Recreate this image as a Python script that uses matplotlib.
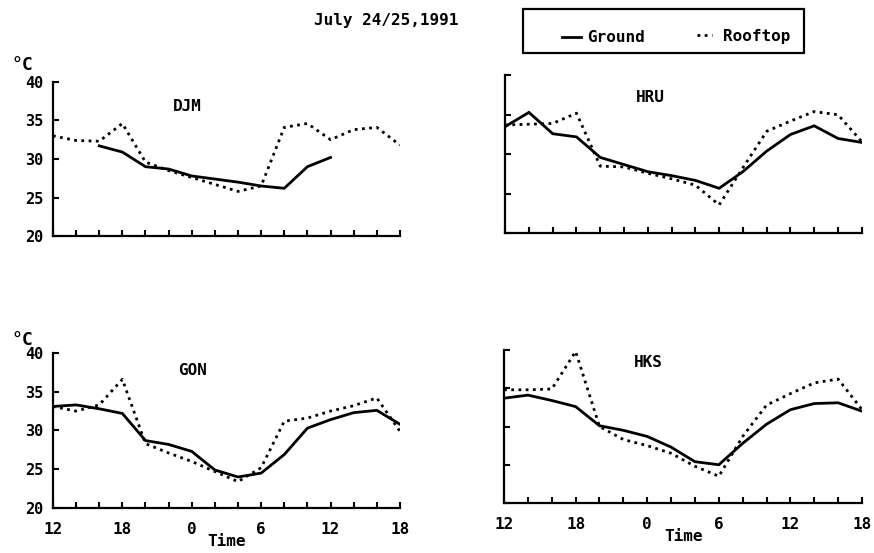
import matplotlib
matplotlib.use('Agg')
import matplotlib.pyplot as plt
from matplotlib.lines import Line2D
from matplotlib.patches import Rectangle

# ---------------- data ----------------
hours = [0, 2, 4, 6, 8, 10, 12, 14, 16, 18, 20, 22, 24, 26, 28, 30]   # hours after 12:00, July 24
tick_labels = ["12", "18", "0", "6", "12", "18"]
tick_positions = [0, 6, 12, 18, 24, 30]

djm_hours_ground = [4, 6, 8, 10, 12, 14, 16, 18, 20, 22, 24]
djm_ground = [31.7, 30.9, 29.0, 28.7, 27.8, 27.4, 27.0, 26.5, 26.2, 29.0, 30.2]
djm_roof = [33.0, 32.4, 32.3, 34.6, 29.6, 28.5, 27.6, 26.7, 25.8, 26.5, 34.1, 34.6, 32.5, 33.8, 34.1, 31.8]

hru_ground = [33.5, 35.3, 32.6, 32.2, 29.6, 28.7, 27.8, 27.3, 26.7, 25.7, 27.8, 30.4, 32.5, 33.6, 32.0, 31.5]
hru_roof = [33.7, 33.8, 33.9, 35.2, 28.5, 28.4, 27.6, 26.9, 26.1, 23.6, 28.3, 32.9, 34.2, 35.4, 35.0, 31.6]

gon_ground = [33.1, 33.3, 32.8, 32.2, 28.7, 28.2, 27.3, 24.9, 24.0, 24.5, 26.9, 30.3, 31.4, 32.3, 32.6, 30.8]
gon_roof = [33.1, 32.5, 33.3, 36.6, 28.3, 27.1, 26.0, 24.7, 23.4, 25.2, 31.2, 31.6, 32.5, 33.2, 34.2, 29.9]

hks_ground = [33.7, 34.1, 33.4, 32.6, 30.1, 29.5, 28.7, 27.3, 25.4, 25.0, 27.8, 30.3, 32.2, 33.0, 33.1, 32.0]
hks_roof = [34.8, 34.8, 34.9, 39.8, 30.0, 28.3, 27.5, 26.5, 24.8, 23.5, 28.7, 32.8, 34.3, 35.7, 36.2, 32.2]

# ---------------- style ----------------
FONT = 'DejaVu Sans Mono'
plt.rcParams['font.family'] = [FONT, 'DejaVu Sans']
plt.rcParams['font.weight'] = 'bold'

SOLID = dict(color='black', lw=2.0, solid_joinstyle='miter')
DOT = dict(color='black', lw=2.0, linestyle=(0, (1, 1.6)))

fig = plt.figure(figsize=(8.74, 5.53), dpi=100)

panels = [
    # name, rect, ground x, ground y, roof y, left labels, bottom labels, title pos
    ("DJM", [0.0606, 0.573, 0.397, 0.279], djm_hours_ground, djm_ground, djm_roof, True, False, (0.386, 0.838)),
    ("HRU", [0.578, 0.578, 0.408, 0.286], hours, hru_ground, hru_roof, False, False, (0.406, 0.857)),
    ("GON", [0.0606, 0.0814, 0.397, 0.2803], hours, gon_ground, gon_roof, True, True, (0.403, 0.89)),
    ("HKS", [0.5767, 0.0904, 0.4096, 0.2767], hours, hks_ground, hks_roof, False, True, (0.402, 0.915)),
]

for name, rect, gx, gy, ry, left_lab, bot_lab, tpos in panels:
    ax = fig.add_axes(rect)
    ax.plot(gx, gy, **SOLID)
    ax.plot(hours, ry, **DOT)
    ax.set_xlim(0, 30)
    ax.set_ylim(20, 40)
    for s in ('top', 'right'):
        ax.spines[s].set_visible(False)
    for s in ('left', 'bottom'):
        ax.spines[s].set_linewidth(1.6)
    ax.set_xticks(range(0, 31, 2))
    ax.set_yticks([20, 25, 30, 35, 40])
    ax.tick_params(direction='in', length=4, width=1.5)
    ax.tick_params(axis='y', pad=7, labelsize=11)
    ax.tick_params(axis='x', pad=10.5, labelsize=11.5)
    if bot_lab:
        ax.set_xticks(tick_positions, tick_labels)
        ax.set_xticks(range(0, 31, 2), minor=True)
        ax.tick_params(which='minor', direction='in', length=4, width=1.5)
        ax.tick_params(axis='x', which='major', direction='in', length=4, width=1.5, pad=10)
        ax.set_xlabel("Time", fontsize=11.5, fontweight='bold', labelpad=-2)
    else:
        ax.set_xticklabels([])
    if not left_lab:
        ax.set_yticklabels([])
    for lab in ax.get_xticklabels() + ax.get_yticklabels():
        lab.set_fontweight('bold')
    ax.text(tpos[0], tpos[1], name, transform=ax.transAxes, ha='center', va='center',
            fontsize=11.5, fontweight='bold')

# degree labels
fig.text(22 / 874, 1 - 65 / 553, "°C", ha='center', va='center', fontsize=13)
fig.text(22 / 874, 1 - 340 / 553, "°C", ha='center', va='center', fontsize=13)

# title
fig.text(386 / 874, 1 - 21 / 553, "July 24/25,1991", ha='center', va='center',
         fontsize=11.5, fontweight='bold')

# legend box
fig.add_artist(Rectangle((523 / 874, 1 - 53 / 553), (804 - 523) / 874, 44 / 553,
                         transform=fig.transFigure, fill=False, lw=1.6, ec='black'))
fig.add_artist(Line2D([562 / 874, 581 / 874], [1 - 37 / 553, 1 - 37 / 553],
                      transform=fig.transFigure, **SOLID))
fig.text(587 / 874, 1 - 37 / 553, "Ground", ha='left', va='center', fontsize=11.5, fontweight='bold')
fig.add_artist(Line2D([697 / 874, 712 / 874], [1 - 35 / 553, 1 - 35 / 553],
                      transform=fig.transFigure, **DOT))
fig.text(723 / 874, 1 - 37 / 553, "Rooftop", ha='left', va='center', fontsize=11.5, fontweight='bold')

fig.savefig("out.png", dpi=100)
